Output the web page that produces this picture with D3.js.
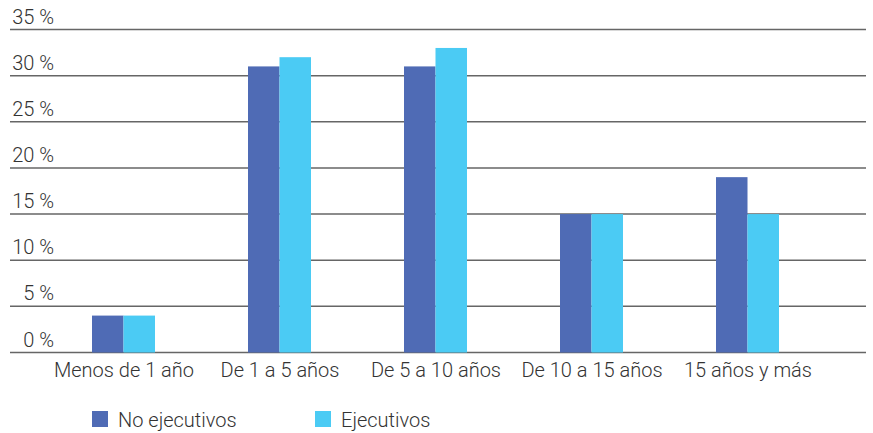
<!DOCTYPE html>
<html>
<head>
<meta charset="UTF-8">
<script src="https://d3js.org/d3.v7.min.js"></script>
<style>
  body { margin: 0; background: #fff; }
  svg { font-family: Roboto, "Liberation Sans", sans-serif; font-weight: 300; }
</style>
</head>
<body>
<svg id="chart" width="873" height="433"></svg>
<script>
var categories = ["Menos de 1 año", "De 1 a 5 años", "De 5 a 10 años", "De 10 a 15 años", "15 años y más"];
var series = ["No ejecutivos", "Ejecutivos"];
var noEjecutivos = [4, 31, 31, 15, 19];
var ejecutivos = [4, 32, 33, 15, 15];
var yTicks = [0, 5, 10, 15, 20, 25, 30, 35];
var colors = ["#4f6bb5", "#4bcbf4"];

var svg = d3.select("#chart");

var x0 = d3.scaleBand().domain(categories).range([46, 826]).padding(0);
var x1 = d3.scaleBand().domain(series)
  .range([x0.bandwidth() / 2 - 32, x0.bandwidth() / 2 + 31]);
var y = d3.scaleLinear().domain([0, 35]).range([352.5, 29.5]);
var z = d3.scaleOrdinal().domain(series).range(colors);

// gridlines
svg.append("g")
  .selectAll("line")
  .data(yTicks)
  .enter().append("line")
    .attr("x1", 10).attr("x2", 866)
    .attr("y1", d => y(d)).attr("y2", d => y(d))
    .attr("stroke", "#666")
    .attr("stroke-width", 1.5);

// tick labels (right aligned)
svg.append("g")
  .selectAll("text")
  .data(yTicks)
  .enter().append("text")
    .attr("x", 54)
    .attr("y", d => y(d) - 6)
    .attr("text-anchor", "end")
    .attr("font-size", 20)
    .attr("fill", "#333")
    .text(d => d + " %");

// bars
var rows = categories.map((c, i) => ({cat: c, vals: [noEjecutivos[i], ejecutivos[i]]}));
svg.append("g")
  .selectAll("g")
  .data(rows)
  .enter().append("g")
    .attr("transform", d => "translate(" + x0(d.cat) + ",0)")
  .selectAll("rect")
  .data(d => series.map((s, j) => ({key: s, value: d.vals[j]})))
  .enter().append("rect")
    .attr("x", d => x1(d.key))
    .attr("width", x1.bandwidth())
    .attr("y", d => y(d.value))
    .attr("height", d => y(0) - y(d.value))
    .attr("fill", d => z(d.key));

// category labels
svg.append("g")
  .selectAll("text")
  .data(categories)
  .enter().append("text")
    .attr("x", d => x0(d) + x0.bandwidth() / 2)
    .attr("y", 377)
    .attr("text-anchor", "middle")
    .attr("font-size", 20)
    .attr("fill", "#333")
    .text(d => d);

// legend
var legendX = [92, 315];
var lg = svg.append("g")
  .selectAll("g")
  .data(series)
  .enter().append("g")
    .attr("transform", (d, i) => "translate(" + legendX[i] + ",411)");
lg.append("rect")
  .attr("width", 16).attr("height", 16)
  .attr("fill", d => z(d));
lg.append("text")
  .attr("x", 26).attr("y", 16)
  .attr("font-size", 20)
  .attr("fill", "#333")
  .text(d => d);
</script>
</body>
</html>
